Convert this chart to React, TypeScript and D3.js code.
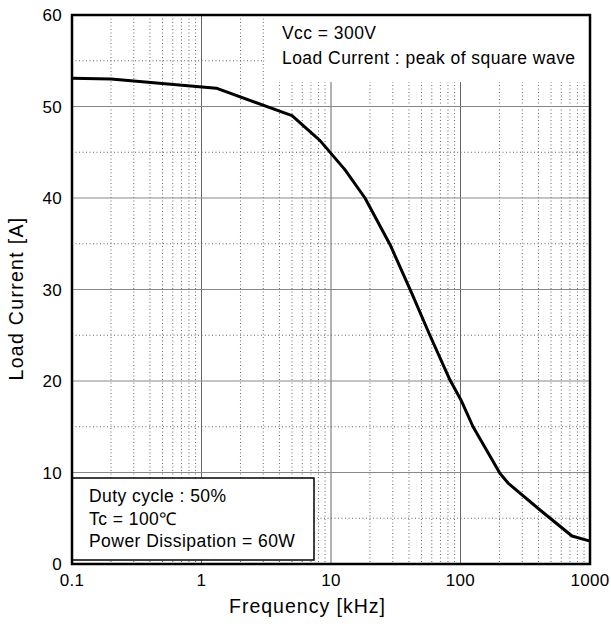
import React from "react";
import * as d3 from "d3";

// Load current vs. switching frequency curve
const freqKHz = [0.1, 0.2, 1.3, 5, 8.2, 12.8, 18.3, 28.6, 42, 58, 83, 101, 125, 202, 233, 411, 726, 1000];
const loadCurrentA = [53.1, 53, 52, 49, 46.3, 43.1, 40, 34.9, 29.6, 25, 20.1, 17.9, 15, 9.9, 8.85, 5.9, 3.06, 2.5];

const xTicks = [0.1, 1, 10, 100, 1000];
const xTickLabels = ["0.1", "1", "10", "100", "1000"];
const yTicks = [0, 10, 20, 30, 40, 50, 60];

const conditionTop = ["Vcc = 300V", "Load Current : peak of square wave"];
const conditionBottom = ["Duty cycle : 50%", "Tc = 100\u2103", "Power Dissipation = 60W"];

const W = 611;
const H = 628;
const M = { left: 72, right: 21, top: 15, bottom: 64 };

export default function App() {
  const x = d3.scaleLog().domain([0.1, 1000]).range([M.left, W - M.right]);
  const y = d3.scaleLinear().domain([0, 60]).range([H - M.bottom, M.top]);

  const minorX: number[] = [];
  for (let d = -1; d < 3; d++) {
    for (let k = 2; k <= 9; k++) minorX.push(k * Math.pow(10, d));
  }
  const halfY = d3.range(5, 60, 10);

  const line = d3
    .line<number>()
    .x((_, i) => x(freqKHz[i]))
    .y((v) => y(v))
    .curve(d3.curveLinear);

  const font = "'Liberation Sans', Arial, sans-serif";
  const x0 = x(0.1), x1 = x(1000), y0 = y(0), y1 = y(60);
  const textLS = 0.45;

  return (
    <svg width={W} height={H} style={{ position: "absolute", left: 0, top: 0 }} fontFamily={font}>
      <rect width={W} height={H} fill="#fff" />
      {/* minor grid */}
      {minorX.map((v) => (
        <line key={"mx" + v} x1={x(v)} x2={x(v)} y1={y1} y2={y0} stroke="#666" strokeWidth={1} strokeDasharray="1,2.5" />
      ))}
      {halfY.map((v) => (
        <line key={"my" + v} x1={x0} x2={x1} y1={y(v)} y2={y(v)} stroke="#666" strokeWidth={1} strokeDasharray="1,2.5" />
      ))}
      {/* major grid */}
      {xTicks.slice(1, -1).map((v) => (
        <line key={"Mx" + v} x1={x(v)} x2={x(v)} y1={y1} y2={y0} stroke="#666" strokeWidth={1} />
      ))}
      {yTicks.slice(1, -1).map((v) => (
        <line key={"My" + v} x1={x0} x2={x1} y1={y(v)} y2={y(v)} stroke="#888" strokeWidth={1} />
      ))}

      {/* top-right condition panel */}
      <rect x={x(3) + 1} y={y1} width={x1 - x(3) - 1} height={67} fill="#fff" />
      {conditionTop.map((t, i) => (
        <text key={t} x={282} y={39 + i * 25} fontSize={17.5} letterSpacing={textLS} fill="#000">{t}</text>
      ))}

      <path d={line(loadCurrentA) || ""} fill="none" stroke="#000" strokeWidth={3} strokeLinejoin="round" />

      {/* bottom-left condition panel */}
      <rect x={x0} y={478} width={314 - x0} height={82} fill="#fff" stroke="#000" strokeWidth={1.5} />
      {conditionBottom.map((t, i) => (
        <text key={t} x={89} y={502 + i * 22.5} fontSize={17.5} letterSpacing={textLS} fill="#000">{t}</text>
      ))}

      {/* frame */}
      <rect x={x0} y={y1} width={x1 - x0} height={y0 - y1} fill="none" stroke="#000" strokeWidth={2.5} />

      {yTicks.map((v) => (
        <text key={"yt" + v} x={62} y={y(v) + 6} fontSize={17} textAnchor="end" letterSpacing={0.3} fill="#000">{v}</text>
      ))}
      {xTicks.map((v, i) => (
        <text key={"xt" + v} x={x(v)} y={586} fontSize={17} textAnchor="middle" letterSpacing={0.3} fill="#000">{xTickLabels[i]}</text>
      ))}
      <text x={307.5} y={613} fontSize={19.5} textAnchor="middle" letterSpacing={1} fill="#000">Frequency [kHz]</text>
      <text transform={`translate(23,298.5) rotate(-90)`} fontSize={19.5} textAnchor="middle" letterSpacing={1.3} fill="#000">Load Current [A]</text>
    </svg>
  );
}
